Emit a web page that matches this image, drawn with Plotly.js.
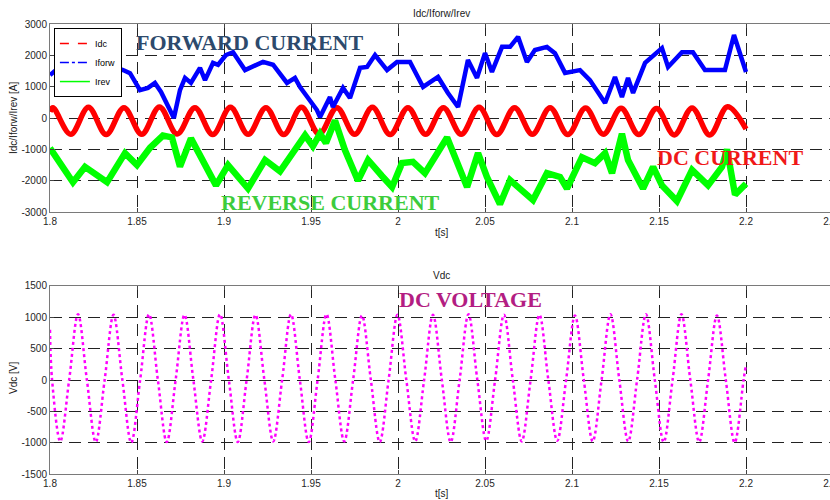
<!DOCTYPE html>
<html>
<head>
<meta charset="utf-8">
<script src="https://cdn.plot.ly/plotly-3.0.1.min.js"></script>
<style>
html,body{margin:0;padding:0;overflow:hidden;background:#fff;}
#chart{width:840px;height:500px;}
</style>
</head>
<body>
<div id="chart"></div>
<script>
// ---- Idc (DC current) : peaks / troughs ----
var idcT = [1.8000,1.8017,1.8119,1.8221,1.8323,1.8425,1.8527,1.8629,1.8731,1.8833,1.8935,1.9037,1.9139,1.9241,1.9343,1.9445,1.9547,1.9649,1.9751,1.9853,1.9955,2.0057,2.0159,2.0261,2.0363,2.0466,2.0568,2.0670,2.0772,2.0874,2.0976,2.1078,2.1180,2.1282,2.1384,2.1486,2.1588,2.1690,2.1792,2.1894,2.2000];
var idcV = [200,330,-520,340,-530,330,-520,350,-510,330,-530,340,-520,330,-530,340,-510,330,-520,340,-530,330,-520,330,-520,340,-530,330,-520,330,-530,320,-520,310,-530,300,-540,320,-540,360,-350];

// ---- Iforw (forward current) ----
var iforwT = [1.8000,1.8034,1.8092,1.8149,1.8207,1.8247,1.8305,1.8362,1.8420,1.8460,1.8517,1.8563,1.8603,1.8638,1.8690,1.8712,1.8747,1.8776,1.8810,1.8862,1.8891,1.8937,1.8966,1.9011,1.9052,1.9121,1.9224,1.9282,1.9362,1.9408,1.9437,1.9534,1.9552,1.9609,1.9626,1.9684,1.9724,1.9782,1.9822,1.9868,1.9937,1.9994,2.0069,2.0144,2.0230,2.0287,2.0345,2.0402,2.0454,2.0500,2.0540,2.0598,2.0644,2.0690,2.0741,2.0787,2.0856,2.0902,2.0960,2.1046,2.1103,2.1190,2.1247,2.1287,2.1322,2.1351,2.1420,2.1517,2.1552,2.1632,2.1695,2.1764,2.1879,2.1931,2.2000];
var iforwV = [1370,1530,1050,1530,1630,1630,1280,1630,1530,1430,890,960,1120,830,250,0,890,1280,1120,1600,1210,1760,1700,2010,2100,1530,1790,1700,1120,1280,990,255,30,670,350,960,640,1600,1630,2010,1530,1790,1790,990,1310,800,350,1850,1280,2070,1470,2270,2270,2590,1790,2170,2270,2070,1440,1530,1210,480,1310,670,1280,800,1760,2230,1630,2100,2100,1530,1530,2650,1470];

// ---- Irev (reverse current) ----
var irevT = [1.8000,1.8046,1.8132,1.8201,1.8259,1.8328,1.8431,1.8500,1.8575,1.8649,1.8701,1.8747,1.8810,1.8954,1.9023,1.9138,1.9236,1.9322,1.9466,1.9511,1.9552,1.9586,1.9638,1.9695,1.9770,1.9828,1.9908,1.9966,2.0023,2.0086,2.0155,2.0282,2.0397,2.0460,2.0511,2.0586,2.0644,2.0776,2.0856,2.0931,2.0971,2.1057,2.1132,2.1190,2.1230,2.1287,2.1322,2.1408,2.1466,2.1517,2.1603,2.1690,2.1782,2.1862,2.1891,2.1937,2.2000];
var irevV = [-960,-1340,-2050,-1560,-1760,-2050,-1120,-1500,-950,-560,-620,-1550,-650,-2150,-1500,-2250,-1340,-1700,-550,-900,-500,-800,-80,-1020,-2000,-1340,-1850,-2200,-1440,-1400,-1760,-620,-2200,-1120,-1880,-2750,-1980,-2620,-1760,-1880,-2250,-1250,-1440,-1120,-1760,-500,-1340,-2250,-1560,-2150,-2650,-1660,-2150,-1560,-1000,-2450,-2100];

// ---- Vdc (DC voltage) ----
var vdcT = [1.8000,1.8012,1.8059,1.8110,1.8161,1.8212,1.8263,1.8314,1.8365,1.8416,1.8467,1.8518,1.8569,1.8620,1.8671,1.8722,1.8773,1.8824,1.8875,1.8926,1.8977,1.9028,1.9079,1.9130,1.9181,1.9232,1.9283,1.9334,1.9385,1.9436,1.9487,1.9538,1.9589,1.9640,1.9691,1.9742,1.9793,1.9844,1.9895,1.9946,1.9997,2.0048,2.0099,2.0150,2.0201,2.0252,2.0303,2.0354,2.0405,2.0456,2.0507,2.0558,2.0609,2.0660,2.0711,2.0762,2.0813,2.0864,2.0915,2.0966,2.1017,2.1068,2.1119,2.1170,2.1221,2.1272,2.1323,2.1374,2.1425,2.1476,2.1527,2.1578,2.1629,2.1680,2.1731,2.1782,2.1833,2.1884,2.1935,2.1986,2.2000];
var vdcV = [800,0,-980,0,1050,0,-990,0,1040,0,-1000,0,1050,0,-990,0,1040,0,-980,0,1050,0,-990,0,1040,0,-980,0,1050,0,-990,0,1050,0,-980,0,1030,0,-990,0,1040,0,-980,0,1040,0,-990,0,1050,0,-970,0,1040,0,-980,0,1040,0,-970,0,1030,0,-980,0,1050,0,-980,0,1050,0,-990,0,1050,0,-990,0,1030,0,-1000,0,250];

// ---- ticks ----
var xTickVals = [1.8,1.85,1.9,1.95,2,2.05,2.1,2.15,2.2,2.25];
var xTickText = ['1.8','1.85','1.9','1.95','2','2.05','2.1','2.15','2.2','2.25'];
var y1TickVals = [-3000,-2000,-1000,0,1000,2000,3000];
var y1TickText = ['-3000','-2000','-1000','0','1000','2000','3000'];
var y2TickVals = [-1500,-1000,-500,0,500,1000,1500];
var y2TickText = ['-1500','-1000','-500','0','500','1000','1500'];

var seriesNames = ['Idc','Iforw','Irev'];
var seriesColors = ['#ff0000','#0000ff','#00ff00'];

var traces = [
  {x: idcT, y: idcV, mode:'lines', line:{color:seriesColors[0], width:5.5, shape:'spline'}, showlegend:false, xaxis:'x', yaxis:'y', hoverinfo:'skip'},
  {x: iforwT, y: iforwV, mode:'lines', line:{color:seriesColors[1], width:4.5}, showlegend:false, xaxis:'x', yaxis:'y', hoverinfo:'skip'},
  {x: irevT, y: irevV, mode:'lines', line:{color:seriesColors[2], width:6.5}, showlegend:false, xaxis:'x', yaxis:'y', hoverinfo:'skip'},
  {x:[null], y:[null], mode:'lines', name:seriesNames[0], line:{color:seriesColors[0], width:1.5, dash:'dash'}, xaxis:'x', yaxis:'y'},
  {x:[null], y:[null], mode:'lines', name:seriesNames[1], line:{color:seriesColors[1], width:1.5, dash:'dashdot'}, xaxis:'x', yaxis:'y'},
  {x:[null], y:[null], mode:'lines', name:seriesNames[2], line:{color:seriesColors[2], width:1.5}, xaxis:'x', yaxis:'y'},
  {x: vdcT, y: vdcV, mode:'lines', line:{color:'#ff00ff', width:2.5, dash:'dot', shape:'spline'}, showlegend:false, xaxis:'x2', yaxis:'y2', hoverinfo:'skip'}
];

var tickFont = {family:'Liberation Sans, Arial, sans-serif', size:10, color:'#262626'};
function xax(anchor){
  return {anchor:anchor, range:[1.8,2.25], tickvals:xTickVals, ticktext:xTickText,
    showgrid:true, gridcolor:'#222', gridwidth:1, griddash:'12px,7px',
    showline:true, linecolor:'#7a7a7a', linewidth:1, mirror:'ticks',
    ticks:'inside', ticklen:4, tickcolor:'#444', zeroline:false, tickfont:tickFont,
    ticklabeloverflow:'allow'};
}
function yax(anchor, dom, rng, tv, tt){
  return {anchor:anchor, domain:dom, range:rng, tickvals:tv, ticktext:tt,
    showgrid:true, gridcolor:'#222', gridwidth:1, griddash:'12px,7px',
    showline:true, linecolor:'#7a7a7a', linewidth:1, mirror:'ticks',
    ticks:'inside', ticklen:4, tickcolor:'#444', zeroline:false, tickfont:tickFont};
}

var small = {family:'Liberation Sans, Arial, sans-serif', size:10, color:'#1a1a1a'};
var big = function(c){return {family:'Liberation Serif, Times New Roman, serif', size:22, color:c};};

var layout = {
  width:840, height:500,
  margin:{l:50, r:7, t:24, b:26},
  paper_bgcolor:'#fff', plot_bgcolor:'#fff',
  xaxis: xax('y'),
  yaxis: yax('x', [0.5822,1], [-3000,3000], y1TickVals, y1TickText),
  xaxis2: xax('y2'),
  yaxis2: yax('x2', [0,0.4178], [-1500,1500], y2TickVals, y2TickText),
  showlegend:true,
  legend:{x:0.005, y:0.991, xanchor:'left', yanchor:'top', bgcolor:'#fff', bordercolor:'#000', borderwidth:1,
    font:{family:'Liberation Sans, Arial, sans-serif', size:9, color:'#000'}, tracegroupgap:0, itemwidth:30},
  annotations:[
    {text:'Idc/Iforw/Irev', xref:'paper', yref:'paper', x:0.5, y:1.0244, xanchor:'center', yanchor:'middle', showarrow:false, font:small},
    {text:'Vdc', xref:'paper', yref:'paper', x:0.5, y:0.4422, xanchor:'center', yanchor:'middle', showarrow:false, font:small},
    {text:'t[s]', xref:'paper', yref:'paper', x:0.5, y:0.5356, xanchor:'center', yanchor:'middle', showarrow:false, font:small},
    {text:'t[s]', xref:'paper', yref:'paper', x:0.5, y:-0.0444, xanchor:'center', yanchor:'middle', showarrow:false, font:small},
    {text:'Idc/Iforw/Irev [A]', xref:'paper', yref:'paper', x:-0.0473, y:0.791, xanchor:'center', yanchor:'middle', showarrow:false, textangle:-90, font:small},
    {text:'Vdc [V]', xref:'paper', yref:'paper', x:-0.0473, y:0.2133, xanchor:'center', yanchor:'middle', showarrow:false, textangle:-90, font:small},
    {text:'<b>FORWARD CURRENT</b>', xref:'paper', yref:'paper', x:0.2554, y:0.958, xanchor:'center', yanchor:'middle', showarrow:false, font:big('#2d4a6c')},
    {text:'<b>DC CURRENT</b>', xref:'paper', yref:'paper', x:0.8685, y:0.7044, xanchor:'center', yanchor:'middle', showarrow:false, font:big('#f01818')},
    {text:'<b>REVERSE CURRENT</b>', xref:'paper', yref:'paper', x:0.3576, y:0.6044, xanchor:'center', yanchor:'middle', showarrow:false, font:big('#3ccc3c')},
    {text:'<b>DC VOLTAGE</b>', xref:'paper', yref:'paper', x:0.5364, y:0.3867, xanchor:'center', yanchor:'middle', showarrow:false, font:big('#b31d82')}
  ]
};

Plotly.newPlot('chart', traces, layout, {displayModeBar:false, staticPlot:true});
</script>
</body>
</html>
